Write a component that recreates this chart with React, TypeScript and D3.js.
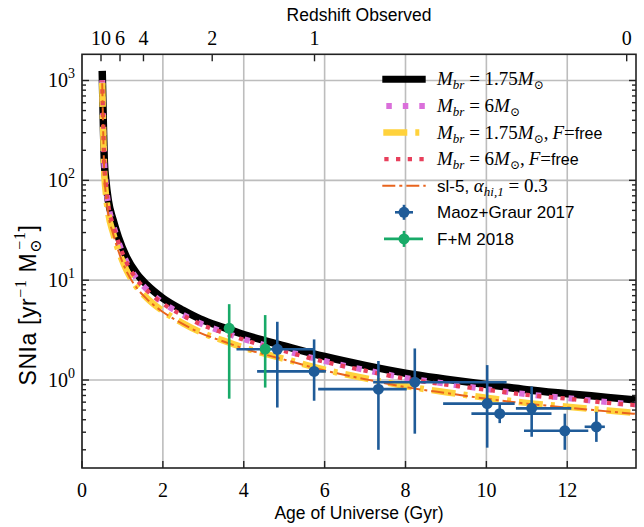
import React from 'react'
import * as d3 from 'd3'

// model curves, age of universe (Gyr) vs SNIa rate
const ages = [0.5, 0.53, 0.55, 0.59, 0.65, 0.77, 0.9, 1.1, 1.36, 1.6, 2.0, 2.5, 2.92, 3.5, 4, 5, 6, 7, 8, 9, 10, 11, 12, 13, 13.7]
const rateBr175 = [1250, 340, 165, 100, 63, 40, 27, 17, 11.5, 9.0, 6.6, 5.0, 4.1, 3.35, 2.85, 2.2, 1.72, 1.4, 1.17, 1.02, 0.9, 0.8, 0.73, 0.67, 0.63]
const rateBr6 = [1010, 300, 150, 91, 57, 36, 24.3, 15.3, 10.3, 8.1, 5.95, 4.5, 3.7, 3.02, 2.57, 1.98, 1.55, 1.26, 1.05, 0.92, 0.81, 0.72, 0.66, 0.6, 0.57]
const rateBr175Free = [950, 250, 122, 74, 46.5, 29.5, 20, 12.6, 8.5, 6.65, 4.9, 3.7, 3.03, 2.48, 2.11, 1.63, 1.27, 1.04, 0.87, 0.755, 0.665, 0.59, 0.54, 0.495, 0.466]
const rateBr6Free = [1000, 295, 147, 89, 56, 35.4, 24, 15.1, 10.1, 7.95, 5.85, 4.42, 3.64, 2.97, 2.53, 1.95, 1.52, 1.24, 1.03, 0.9, 0.8, 0.71, 0.65, 0.59, 0.56]
const rateSl5 = [940, 245, 120, 72.5, 45.5, 29, 19.6, 12.3, 8.3, 6.5, 4.8, 3.63, 2.97, 2.43, 2.07, 1.6, 1.245, 1.02, 0.85, 0.74, 0.65, 0.58, 0.53, 0.485, 0.457]

// Maoz+Graur 2017
const maozAge = [4.83, 5.74, 7.33, 8.23, 10.02, 10.33, 11.12, 11.94, 12.72]
const maozAgeLo = [3.82, 4.33, 5.84, 7.2, 8.93, 9.63, 10.73, 10.93, 12.43]
const maozAgeHi = [5.72, 6.03, 8.03, 10.5, 10.7, 11.61, 12.1, 12.52, 12.93]
const maozRate = [2.03, 1.22, 0.81, 0.95, 0.58, 0.46, 0.52, 0.31, 0.34]
const maozRateLo = [0.53, 0.62, 0.2, 0.29, 0.21, 0.37, 0.27, 0.2, 0.24]
const maozRateHi = [3.83, 2.55, 1.55, 2.07, 1.41, 0.58, 0.86, 0.46, 0.48]

// F+M 2018
const fmAge = [3.64, 4.53]
const fmRate = [3.29, 2.04]
const fmRateLo = [0.65, 0.84]
const fmRateHi = [5.75, 4.47]

// axes
const ageTicks = [0, 2, 4, 6, 8, 10, 12]
const rateTicks = [1, 10, 100, 1000]
const redshiftLabels = ['10', '6', '4', '2', '1', '0']
const redshiftAges = [0.47, 0.94, 1.52, 3.22, 5.75, 13.47]

const W = 644
const H = 527
const margin = { top: 54.3, right: 8, bottom: 59, left: 82 }

const serif = "'Liberation Serif', 'DejaVu Serif', serif"
const sans = "'Liberation Sans', Arial, sans-serif"

const BLUE = '#1f5b98'
const GREEN = '#18aa68'

const curves = [
  { key: 'br175', values: rateBr175, color: '#000000', width: 7.5, dash: null, offset: 0 },
  { key: 'br6', values: rateBr6, color: '#da6fda', width: 6, dash: '5.5 11', offset: 0 },
  { key: 'br175f', values: rateBr175Free, color: '#ffd23c', width: 6.5, dash: '24 8 4 8', offset: 0 },
  { key: 'br6f', values: rateBr6Free, color: '#e8405c', width: 4.3, dash: '4.3 7.4', offset: 3 },
  { key: 'sl5', values: rateSl5, color: '#e8641e', width: 2, dash: '13 4 3 4', offset: 0 },
]

const App = () => {
  const x = d3.scaleLinear().domain([0, 13.7]).range([margin.left, W - margin.right])
  const y = d3.scaleLog().domain([0.1314, 1830]).range([H - margin.bottom, margin.top])
  const x0 = margin.left
  const x1 = W - margin.right
  const y0 = H - margin.bottom
  const y1 = margin.top

  const line = d3
    .line<number>()
    .x((_, i) => x(ages[i]))
    .y((d) => y(d))
    .curve(d3.curveMonotoneX)

  // minor log ticks
  const minor: number[] = []
  for (let k = -1; k <= 3; k++) {
    for (let m = 2; m <= 9; m++) {
      const v = m * Math.pow(10, k)
      if (v > 0.1314 && v < 1830) minor.push(v)
    }
  }

  const legendY = (i: number) => 79.3 + i * 26.6
  const lx0 = 382.3
  const lx1 = 425.7
  const tx = 437

  return (
    <svg width={W} height={H} style={{ position: 'absolute', left: 0, top: 0, background: '#fff' }}>
      <rect width={W} height={H} fill="#fff" />
      {/* grid */}
      <g stroke="#bdbdbd" strokeWidth={1.6}>
        {ageTicks.map((t) => (
          <line key={'gx' + t} x1={x(t)} x2={x(t)} y1={y0} y2={y1} />
        ))}
        {rateTicks.map((t) => (
          <line key={'gy' + t} x1={x0} x2={x1} y1={y(t)} y2={y(t)} />
        ))}
      </g>

      <defs>
        <clipPath id="plotClip">
          <rect x={x0} y={y1} width={x1 - x0} height={y0 - y1} />
        </clipPath>
      </defs>

      {/* model curves */}
      <g clipPath="url(#plotClip)" fill="none">
        {curves.map((c) => (
          <path
            key={c.key}
            d={line(c.values) || ''}
            stroke={c.color}
            strokeWidth={c.width}
            strokeDasharray={c.dash || undefined}
            strokeDashoffset={c.offset}
          />
        ))}
      </g>

      {/* Maoz+Graur errorbars */}
      <g stroke={BLUE} strokeWidth={2.6}>
        {maozAge.map((a, i) => (
          <g key={'m' + i}>
            <line x1={x(maozAgeLo[i])} x2={x(maozAgeHi[i])} y1={y(maozRate[i])} y2={y(maozRate[i])} />
            <line x1={x(a)} x2={x(a)} y1={y(maozRateLo[i])} y2={y(maozRateHi[i])} />
          </g>
        ))}
      </g>
      <g fill={BLUE}>
        {maozAge.map((a, i) => (
          <circle key={'mc' + i} cx={x(a)} cy={y(maozRate[i])} r={5.5} />
        ))}
      </g>

      {/* F+M errorbars */}
      <g stroke={GREEN} strokeWidth={2.6}>
        {fmAge.map((a, i) => (
          <line key={'f' + i} x1={x(a)} x2={x(a)} y1={y(fmRateLo[i])} y2={y(fmRateHi[i])} />
        ))}
      </g>
      <g fill={GREEN}>
        {fmAge.map((a, i) => (
          <circle key={'fc' + i} cx={x(a)} cy={y(fmRate[i])} r={5.5} />
        ))}
      </g>

      {/* ticks */}
      <g stroke="#222" strokeWidth={1.4}>
        {ageTicks.map((t) => (
          <line key={'tx' + t} x1={x(t)} x2={x(t)} y1={y0} y2={y0 - 7} />
        ))}
        {redshiftAges.map((a, i) => (
          <line key={'tz' + i} x1={x(a)} x2={x(a)} y1={y1} y2={y1 + 7} />
        ))}
        {rateTicks.map((t) => (
          <g key={'ty' + t}>
            <line x1={x0} x2={x0 + 7} y1={y(t)} y2={y(t)} />
            <line x1={x1} x2={x1 - 7} y1={y(t)} y2={y(t)} />
          </g>
        ))}
        {minor.map((t) => (
          <g key={'tm' + t}>
            <line x1={x0} x2={x0 + 4} y1={y(t)} y2={y(t)} />
            <line x1={x1} x2={x1 - 4} y1={y(t)} y2={y(t)} />
          </g>
        ))}
      </g>

      {/* frame */}
      <rect x={x0} y={y1} width={x1 - x0} height={y0 - y1} fill="none" stroke="#222" strokeWidth={1.6} />

      {/* tick labels */}
      <g fontFamily={serif} fontSize={20} fill="#000">
        {ageTicks.map((t) => (
          <text key={'lx' + t} x={x(t)} y={497} textAnchor="middle">
            {t}
          </text>
        ))}
        {redshiftLabels.map((z, i) => (
          <text key={'lz' + i} x={x(redshiftAges[i])} y={45} textAnchor="middle">
            {z}
          </text>
        ))}
        {rateTicks.map((t) => (
          <text key={'ly' + t} x={75} y={y(t) + 6.5} textAnchor="end">
            10
            <tspan fontSize={14} dy={-9}>
              {Math.round(Math.log10(t))}
            </tspan>
          </text>
        ))}
      </g>

      {/* axis titles */}
      <text x={(x0 + x1) / 2} y={519} textAnchor="middle" fontFamily={sans} fontSize={17.5}>
        Age of Universe (Gyr)
      </text>
      <text x={(x0 + x1) / 2} y={21} textAnchor="middle" fontFamily={sans} fontSize={17.5}>
        Redshift Observed
      </text>
      <text transform="translate(36, 305) rotate(-90)" textAnchor="middle" fontFamily={sans} fontSize={23} letterSpacing={0.6}>
        SNIa [yr
        <tspan fontFamily={serif} fontSize={16} dy={-10}>−1</tspan>
        <tspan dy={10}> M</tspan>
        <tspan fontFamily={serif} fontSize={16} dy={5}>⊙</tspan>
        <tspan fontFamily={serif} fontSize={16} dx={-11} dy={-16}>−1</tspan>
        <tspan dy={11}>]</tspan>
      </text>

      {/* legend */}
      <g>
        <line x1={lx0} x2={lx1} y1={legendY(0)} y2={legendY(0)} stroke="#000" strokeWidth={7} />
        <line x1={lx0} x2={lx1} y1={legendY(1)} y2={legendY(1)} stroke="#da6fda" strokeWidth={6} strokeDasharray="5.5 11" strokeDashoffset={-4} />
        <line x1={lx0} x2={lx1} y1={legendY(2)} y2={legendY(2)} stroke="#ffd23c" strokeWidth={6.5} strokeDasharray="24 8 4 8" strokeDashoffset={-1} />
        <line x1={lx0} x2={lx1} y1={legendY(3)} y2={legendY(3)} stroke="#e8405c" strokeWidth={4.3} strokeDasharray="4.3 7.4" strokeDashoffset={-2} />
        <line x1={lx0} x2={lx1} y1={legendY(4)} y2={legendY(4)} stroke="#e8641e" strokeWidth={2} strokeDasharray="13 4 3 4" />
        <g stroke={BLUE} strokeWidth={2.6}>
          <line x1={395} x2={413} y1={legendY(5)} y2={legendY(5)} />
          <line x1={404} x2={404} y1={legendY(5) - 7.5} y2={legendY(5) + 7.5} />
        </g>
        <circle cx={404} cy={legendY(5)} r={5.5} fill={BLUE} />
        <g stroke={GREEN} strokeWidth={2.6}>
          <line x1={384} x2={423} y1={legendY(6)} y2={legendY(6)} />
          <line x1={404} x2={404} y1={legendY(6) - 8} y2={legendY(6) + 8} />
        </g>
        <circle cx={404} cy={legendY(6)} r={5.5} fill={GREEN} />

        <g fontFamily={serif} fontSize={19}>
          {[0, 1, 2, 3].map((i) => {
            const mass = i % 2 === 0 ? '1.75' : '6'
            const free = i >= 2
            return (
              <text key={'lt' + i} x={tx} y={legendY(i) + 6}>
                <tspan fontStyle="italic">M</tspan>
                <tspan fontStyle="italic" fontSize={13} dy={4}>br</tspan>
                <tspan dy={-4}>{' = ' + mass}</tspan>
                <tspan fontStyle="italic">M</tspan>
                <tspan fontSize={12} dy={4}>⊙</tspan>
                {free ? <tspan dy={-4}>,</tspan> : null}
                {free ? <tspan fontStyle="italic" dx={4}>F</tspan> : null}
                {free ? <tspan>=</tspan> : null}
                {free ? <tspan fontFamily={sans} fontSize={16}>free</tspan> : null}
              </text>
            )
          })}
          <text x={tx} y={legendY(4) + 6}>
            <tspan fontFamily={sans} fontSize={17}>sl-5, </tspan>
            <tspan fontStyle="italic">α</tspan>
            <tspan fontStyle="italic" fontSize={13} dy={4}>hi,1</tspan>
            <tspan dy={-4}> = 0.3</tspan>
          </text>
        </g>
        <g fontFamily={sans} fontSize={17}>
          <text x={tx} y={legendY(5) + 6}>Maoz+Graur 2017</text>
          <text x={tx} y={legendY(6) + 6}>F+M 2018</text>
        </g>
      </g>
    </svg>
  )
}

export default App
